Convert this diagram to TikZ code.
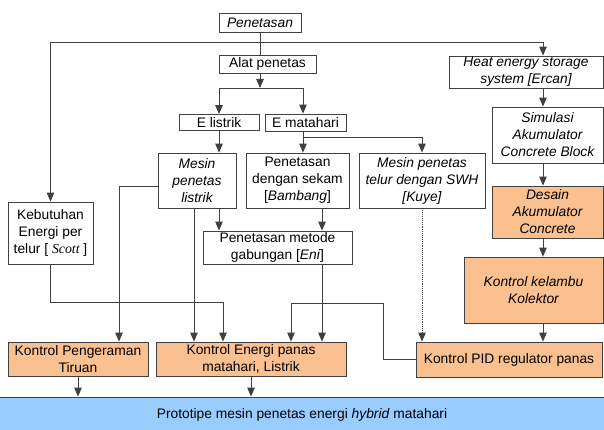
\documentclass[tikz,border=0pt]{standalone}
\usepackage{fontspec}
\setmainfont{Liberation Sans}
\newfontfamily\timesfont{Liberation Serif}
\usetikzlibrary{arrows.meta,calc}
\definecolor{boxorange}{RGB}{250,192,143}
\definecolor{protoblue}{RGB}{153,204,255}
\definecolor{linegray}{RGB}{64,64,64}

\begin{document}
\begin{tikzpicture}[x=1pt,y=-1pt,
    box/.style={draw=linegray,line width=0.8pt,inner sep=1pt,align=center,font=\fontsize{13.8}{17}\selectfont},
    ctrl/.style={box,fill=boxorange},
    link/.style={->,draw=linegray,line width=0.9pt},
    >={Triangle[length=9pt,width=7.5pt]},
]
    \useasboundingbox (0,0) rectangle (604,430);

    % top of the tree
    \node[box,minimum width=82pt,minimum height=19pt] (pen) at (260,22.5) {\itshape Penetasan};
    \node[box,minimum width=97pt,minimum height=18pt] (alat) at (267.5,64) {Alat penetas};
    \node[box,minimum width=80pt,minimum height=16pt] (elis) at (219,122.5) {E listrik};
    \node[box,minimum width=81pt,minimum height=17pt] (emat) at (305.5,122.5) {E matahari};

    % right column
    \node[box,minimum width=154pt,minimum height=32pt] (heat) at (526,72) {\itshape Heat energy storage\\\itshape system [Ercan]};
    \node[box,minimum width=111pt,minimum height=56pt] (sim) at (547.5,135) {\itshape Simulasi\\\itshape Akumulator\\\itshape Concrete Block};
    \node[ctrl,minimum width=111pt,minimum height=52pt] (desain) at (547.5,212) {\itshape Desain\\\itshape Akumulator\\\itshape Concrete};
    \node[ctrl,minimum width=139pt,minimum height=66pt] (kelambu) at (533.5,290) {\itshape Kontrol kelambu\\\itshape Kolektor};

    % middle row
    \node[box,minimum width=78pt,minimum height=55pt] (mlis) at (197,180.5) {\itshape Mesin\\\itshape penetas\\\itshape listrik};
    \node[box,minimum width=103pt,minimum height=55pt] (sekam) at (297.5,180.5) {Penetasan\\dengan sekam\\{[\textit{Bambang}]}};
    \node[box,minimum width=126pt,minimum height=55pt] (swh) at (422,180.5) {\itshape Mesin penetas\\\itshape telur dengan SWH\\\itshape [Kuye]};
    \node[box,minimum width=85pt,minimum height=62pt] (keb) at (50.5,233) {Kebutuhan\\Energi per\\telur [ {\timesfont\itshape Scott} ]};
    \node[box,minimum width=149pt,minimum height=33pt] (gab) at (277.5,247.5) {Penetasan metode\\gabungan [\textit{Eni}]};

    % control blocks
    \node[ctrl,minimum width=140pt,minimum height=34pt] (kpt) at (78,359) {Kontrol Pengeraman\\Tiruan};
    \node[ctrl,minimum width=190pt,minimum height=34pt] (ken) at (251,359) {Kontrol Energi panas\\matahari, Listrik};
    \node[ctrl,minimum width=186pt,minimum height=35pt] (pid) at (509,359.5) {Kontrol PID regulator panas};
    \node[box,fill=protoblue,minimum width=612pt,minimum height=36pt] (proto) at (302,415) {Prototipe mesin penetas energi \textit{hybrid} matahari};

    % bend points
    \coordinate (pj) at (260,42);
    \coordinate (aj) at (260,88);
    \coordinate (mj) at (303,137);
    \coordinate (colR) at (543,0);
    \coordinate (lb) at (119,186);
    \coordinate (gx) at (322,0);
    \coordinate (mx) at (194,0);
    \coordinate (kb) at (223,302);
    \coordinate (p1) at (383,303);
    \coordinate (p2) at (291,303);

    \draw[draw=linegray,line width=0.9pt] (pen.south) -- (pen.south |- alat.north);
    \draw[link] (pj) -| (keb.north);
    \draw[link] (pj) -| (heat.north -| colR);
    \draw[link] (alat.south -| aj) -- (aj);
    \draw[link] (aj) -| (elis.north);
    \draw[link] (aj) -| (emat.north -| mj);
    \draw[draw=linegray,line width=0.9pt] (emat.south -| mj) -- (mj);
    \draw[link] (mj) -- (mj |- sekam.north);
    \draw[link] (mj) -| (swh.north);
    \draw[link] (elis.south) -- (elis.south |- mlis.north);

    \draw[link] (heat.south -| colR) -- (sim.north -| colR);
    \draw[link] (sim.south -| colR) -- (desain.north -| colR);
    \draw[link] (desain.south -| colR) -- (kelambu.north -| colR);
    \draw[link] (kelambu.south -| colR) -- (pid.north -| colR);

    \draw[link] (mlis.south -| mx) -- (ken.north -| mx);
    \draw[link] (mlis.south -| elis.south) -- (gab.north -| elis.south);
    \draw[link] (mlis.west |- lb) -- (lb) -- (lb |- kpt.north);
    \draw[link] (sekam.south -| gx) -- (gab.north -| gx);
    \draw[link] (gab.south -| gx) -- (ken.north -| gx);
    \draw[link] (keb.south) |- (kb) -- (kb |- ken.north);
    \draw[link,densely dotted] (swh.south) -- (swh.south |- pid.north);
    \draw[link] (pid.west) -| (p1) -- (p2) -- (p2 |- ken.north);

    \draw[link] (kpt.south) -- (kpt.south |- proto.north);
    \draw[link] (ken.south) -- (ken.south |- proto.north);
\end{tikzpicture}
\end{document}
